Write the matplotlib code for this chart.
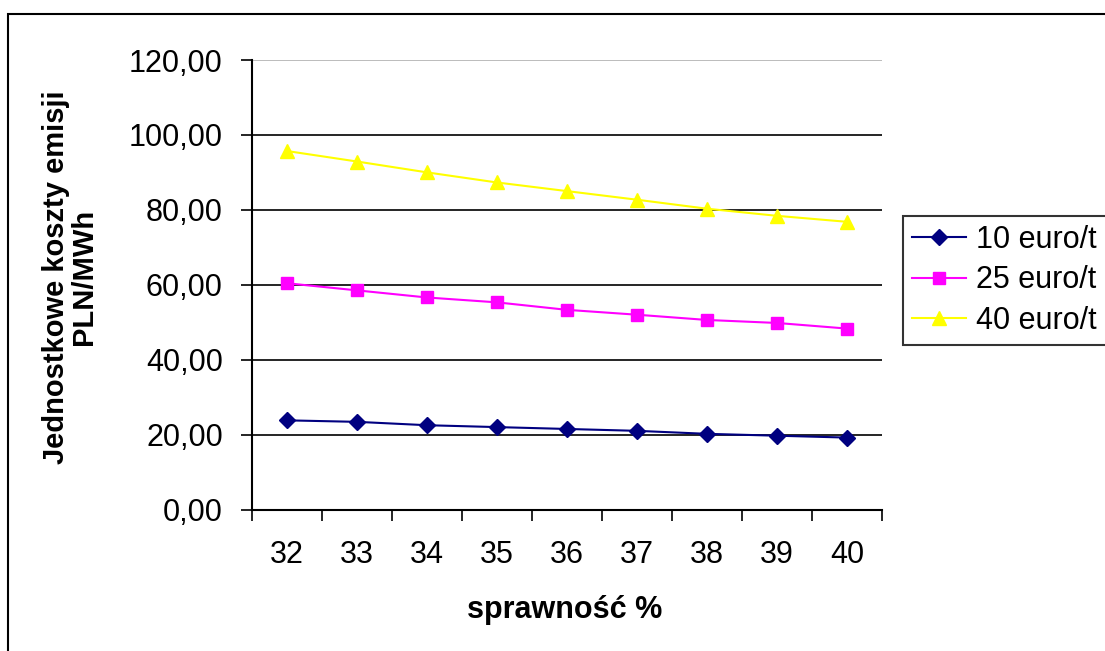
import matplotlib
matplotlib.use('Agg')
import matplotlib.pyplot as plt
from matplotlib.patches import Rectangle
from matplotlib.ticker import FuncFormatter

plt.rcParams['font.family'] = ['Liberation Sans', 'DejaVu Sans']

# dane
sprawnosc = [32, 33, 34, 35, 36, 37, 38, 39, 40]
koszt_10 = [23.8, 23.4, 22.5, 22.0, 21.5, 21.0, 20.2, 19.7, 19.2]
koszt_25 = [60.4, 58.5, 56.6, 55.3, 53.3, 52.0, 50.6, 49.8, 48.3]
koszt_40 = [95.7, 92.9, 90.0, 87.3, 85.0, 82.7, 80.3, 78.4, 76.8]
serie = ['10 euro/t', '25 euro/t', '40 euro/t']
y_ticks = [0, 20, 40, 60, 80, 100, 120]


def plot_koszty():
	W, H = 1105, 651
	fig = plt.figure(figsize=(W / 100, H / 100), dpi=100)

	# ramka obszaru wykresu (wychodzi poza obraz z prawej i z dolu)
	fig.patches.append(Rectangle((8 / W, -0.05), 1.1, 1 - 14 / H + 0.05, transform=fig.transFigure,
								 fill=False, edgecolor='black', linewidth=1.5))

	ax = fig.add_axes([252 / W, 1 - 509.5 / H, 630 / W, 449.5 / H])
	x = list(range(len(sprawnosc)))

	# linie siatki
	for v in y_ticks[1:]:
		c = '#b0b0b0' if v == 120 else 'black'
		ax.axhline(v, color=c, linewidth=1.2, zorder=1)

	ax.plot(x, koszt_10, color='#000080', linewidth=1.5, marker='D', markersize=8, label=serie[0], zorder=3)
	ax.plot(x, koszt_25, color='#ff00ff', linewidth=1.5, marker='s', markersize=8, label=serie[1], zorder=3)
	ax.plot(x, koszt_40, color='#ffff00', linewidth=1.5, marker='^', markersize=10, label=serie[2], zorder=3)

	ax.set_xlim(-0.5, len(sprawnosc) - 0.5)
	ax.set_ylim(0, 120)
	ax.set_yticks(y_ticks)
	ax.yaxis.set_major_formatter(FuncFormatter(lambda v, p: ('%.2f' % v).replace('.', ',')))
	ax.set_xticks(x)
	ax.set_xticklabels([str(s) for s in sprawnosc])
	ax.set_xticks([i - 0.5 for i in range(len(sprawnosc) + 1)], minor=True)

	ax.tick_params(axis='x', which='major', length=0, pad=22, labelsize=22)
	ax.tick_params(axis='x', which='minor', length=8, width=1.2, direction='out')
	ax.tick_params(axis='y', length=8, width=1.2, direction='out', pad=13, labelsize=22)

	ax.spines['top'].set_visible(False)
	ax.spines['right'].set_visible(False)
	ax.spines['left'].set_linewidth(1.5)
	ax.spines['bottom'].set_linewidth(1.5)
	ax.spines['left'].set_zorder(4)
	ax.spines['bottom'].set_zorder(4)

	fig.text(70 / W, 1 - 277 / H, 'Jednostkowe koszty emisji\nPLN/MWh', rotation=90, ha='center', va='center',
			 multialignment='center', fontsize=21, fontweight='bold', linespacing=1.0)
	fig.text(565 / W, 1 - 610 / H, 'sprawność %', ha='center', va='center', fontsize=22, fontweight='bold')

	# legenda wychodzi poza prawa krawedz obrazu
	leg = fig.legend(loc='upper left', bbox_to_anchor=(903 / W, 0, 240 / W, 1 - 215.5 / H), mode='expand',
					 borderaxespad=0, fontsize=22, frameon=True, fancybox=False, edgecolor='black',
					 handlelength=1.75, handletextpad=0.35, labelspacing=0.35, borderpad=0.3)
	leg.get_frame().set_linewidth(1.5)

	plt.savefig('out.png', dpi=100)


if __name__ == '__main__':
	plot_koszty()
